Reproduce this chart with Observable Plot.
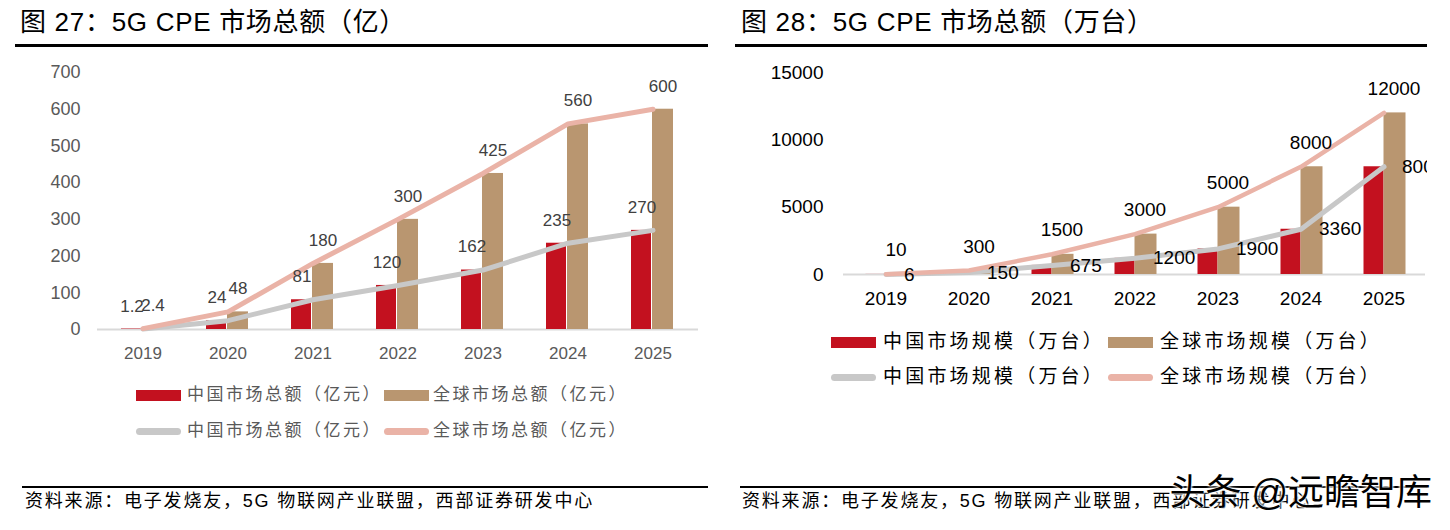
<!DOCTYPE html>
<html><head><meta charset="utf-8">
<script src="https://cdn.jsdelivr.net/npm/d3@7"></script>
<script src="https://cdn.jsdelivr.net/npm/@observablehq/plot@0.6"></script>
<style>
body{margin:0;background:#fff;}
#page{position:relative;width:1450px;height:530px;overflow:hidden;background:#fff;font-family:"Liberation Sans","Noto Sans CJK SC",sans-serif;}
.abs{position:absolute;white-space:nowrap;line-height:1;}
.title{font-size:26px;color:#000;letter-spacing:0.7px;}
.rule{position:absolute;background:#000;}
.sw{position:absolute;}
.src{font-size:18px;color:#000;letter-spacing:1.8px;}
.legL{font-size:17px;color:#595959;letter-spacing:2.5px;}
.legR{font-size:19px;color:#000;letter-spacing:3.2px;}
#left svg g[aria-label^="x-axis"]{font-size:17px;}
#wm{font-size:36px;color:#000;text-shadow:0 0 3px #fff,0 0 3px #fff,0 0 3px #fff;}
</style></head><body><div id="page"></div>
<script>
// ---------- data ----------
const years = ["2019", "2020", "2021", "2022", "2023", "2024", "2025"];
// 图27 市场总额（亿元）
const chinaValue = [1.2, 24, 81, 120, 162, 235, 270];
const globalValue = [2.4, 48, 180, 300, 425, 560, 600];
const valueTicks = [0, 100, 200, 300, 400, 500, 600, 700];
// 图28 市场规模（万台）
const chinaUnits = [6, 150, 675, 1200, 1900, 3360, 8000];
const globalUnits = [10, 300, 1500, 3000, 5000, 8000, 12000];
const unitTicks = [0, 5000, 10000, 15000];

const titleLeft = "图 27：5G CPE 市场总额（亿）";
const titleRight = "图 28：5G CPE 市场总额（万台）";
const legendLeft = ["中国市场总额（亿元）", "全球市场总额（亿元）", "中国市场总额（亿元）", "全球市场总额（亿元）"];
const legendRight = ["中国市场规模（万台）", "全球市场规模（万台）", "中国市场规模（万台）", "全球市场规模（万台）"];
const sourceText = "资料来源：电子发烧友，5G 物联网产业联盟，西部证券研发中心";
const watermark = "头条 @远瞻智库";

const RED = "#C3111F", TAN = "#B99670", GRAY = "#C8C8C8", PINK = "#EAB3A7", AXIS = "#D9D9D9";
const FONT = '"Liberation Sans","Noto Sans CJK SC",sans-serif';

const page = document.getElementById("page");
function add(html, cls, style) {
  const d = document.createElement("div");
  d.className = cls; d.textContent = html;
  Object.assign(d.style, style);
  page.appendChild(d); return d;
}
function box(cls, style) {
  const d = document.createElement("div");
  d.className = cls; Object.assign(d.style, style); page.appendChild(d); return d;
}

// ---------- titles & rules ----------
add(titleLeft, "abs title", {left: "20px", top: "9px"});
add(titleRight, "abs title", {left: "741px", top: "9px"});
box("rule", {left: "15px", top: "44px", width: "693px", height: "3px"});
box("rule", {left: "735px", top: "44px", width: "692px", height: "3px"});
box("rule", {left: "22px", top: "486px", width: "686px", height: "2px"});
box("rule", {left: "740px", top: "486px", width: "687px", height: "2px"});
add(sourceText, "abs src", {left: "25px", top: "492px"});
add(sourceText, "abs src", {left: "742px", top: "492px"});

// ---------- left chart ----------
const leftData = years.map((y, i) => ({year: y, china: chinaValue[i], global: globalValue[i]}));
const leftPlot = Plot.plot({
  width: 700, height: 305,
  marginLeft: 97, marginRight: 2, marginTop: 12, marginBottom: 36,
  style: {fontSize: "18px", fontFamily: FONT, color: "#595959", background: "transparent", overflow: "visible"},
  x: {domain: years, padding: 0, tickSize: 0, tickPadding: 17, label: null},
  y: {domain: [0, 700], ticks: valueTicks, tickSize: 0, tickPadding: 17, label: null},
  marks: [
    Plot.ruleY([0], {stroke: AXIS, strokeWidth: 2}),
    Plot.barY(leftData, {x: "year", y: "china", fill: RED, insetLeft: 21, insetRight: 44}),
    Plot.barY(leftData, {x: "year", y: "global", fill: TAN, insetLeft: 42, insetRight: 22}),
    Plot.line(leftData, {x: "year", y: "china", stroke: GRAY, strokeWidth: 5}),
    Plot.line(leftData, {x: "year", y: "global", stroke: PINK, strokeWidth: 5}),
    Plot.text(leftData, {x: "year", y: "china", text: d => String(d.china), dx: -11, dy: -23, fill: "#404040", fontSize: 17}),
    Plot.text(leftData, {x: "year", y: "global", text: d => String(d.global), dx: 10, dy: -23, fill: "#404040", fontSize: 17})
  ]
});
const lw = document.createElement("div");
lw.id = "left";
Object.assign(lw.style, {position: "absolute", left: "0px", top: "60px", width: "700px", height: "305px"});
lw.appendChild(leftPlot); page.appendChild(lw);

// ---------- right chart ----------
const rightData = years.map((y, i) => ({year: y, china: chinaUnits[i], global: globalUnits[i]}));
const rightPlot = Plot.plot({
  width: 707, height: 260,
  marginLeft: 123, marginRight: 2, marginTop: 12, marginBottom: 46,
  style: {fontSize: "19px", fontFamily: FONT, color: "#000", background: "transparent"},
  x: {domain: years, padding: 0, tickSize: 0, tickPadding: 17, label: null},
  y: {domain: [0, 15000], ticks: unitTicks, tickSize: 0, tickPadding: 20, label: null, tickFormat: d => String(d)},
  marks: [
    Plot.ruleY([0], {stroke: AXIS, strokeWidth: 2}),
    Plot.barY(rightData, {x: "year", y: "china", fill: RED, insetLeft: 21.5, insetRight: 41.5}),
    Plot.barY(rightData, {x: "year", y: "global", fill: TAN, insetLeft: 41.5, insetRight: 19.5}),
    Plot.line(rightData, {x: "year", y: "china", stroke: GRAY, strokeWidth: 5}),
    Plot.line(rightData, {x: "year", y: "global", stroke: PINK, strokeWidth: 4.5}),
    Plot.text(rightData, {x: "year", y: "china", text: d => String(d.china), dx: 18, dy: 0, textAnchor: "start", fill: "#000", fontSize: 19}),
    Plot.text(rightData, {x: "year", y: "global", text: d => String(d.global), dx: 10, dy: -24, fill: "#000", fontSize: 19})
  ]
});
const rw = document.createElement("div");
rw.id = "right";
Object.assign(rw.style, {position: "absolute", left: "720px", top: "60px", width: "707px", height: "260px", overflow: "hidden"});
rw.appendChild(rightPlot); page.appendChild(rw);

// ---------- legends ----------
function legend(items, cls, cols, rows, swW, fontTop) {
  items.forEach((label, i) => {
    const c = cols[i % 2], r = rows[Math.floor(i / 2)];
    const isLine = i >= 2;
    const color = [RED, TAN, GRAY, PINK][i];
    box("sw", {
      left: c.sw + "px", top: (r - (isLine ? 3.5 : 5.5)) + "px", width: swW + "px",
      height: (isLine ? 7 : 11) + "px", background: color, borderRadius: isLine ? "4px" : "0"
    });
    add(label, "abs " + cls, {left: c.tx + "px", top: (r - fontTop) + "px"});
  });
}
legend(legendLeft, "legL", [{sw: 136, tx: 187}, {sw: 384, tx: 433}], [395, 431], 45, 9);
legend(legendRight, "legR", [{sw: 831, tx: 883}, {sw: 1108, tx: 1160}], [342, 377], 45, 10);

// ---------- watermark ----------
const wm = add(watermark, "abs", {right: "18px", top: "475px"});
wm.id = "wm";
</script></body></html>
